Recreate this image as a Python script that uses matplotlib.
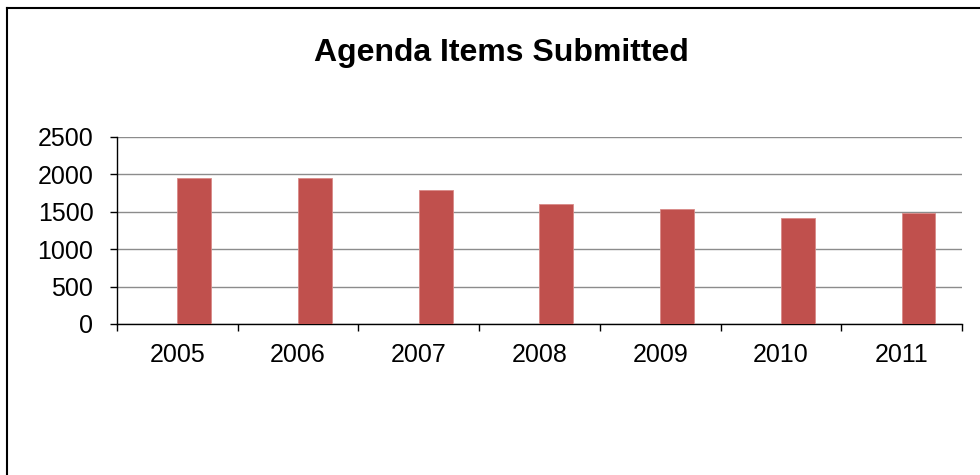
import matplotlib.pyplot as plt
import numpy as np
from matplotlib.lines import Line2D

# Agenda items submitted per year
years = ["2005", "2006", "2007", "2008", "2009", "2010", "2011"]
items = [1950, 1950, 1790, 1600, 1535, 1415, 1480]
y_ticks = [0, 500, 1000, 1500, 2000, 2500]

plt.rcParams["font.family"] = ["Liberation Sans", "DejaVu Sans"]

fig = plt.figure(figsize=(9.8, 4.75), dpi=100)
ax = fig.add_axes([0.1194, 0.3179, 0.8622, 0.3937])

# bars sit right of the category centre, as in a two-series column chart
bar_w = 0.28
x = np.arange(len(years))
ax.bar(x + bar_w / 2, items, width=bar_w, color="#C0504D",
       edgecolor="#D88A88", linewidth=0.6, zorder=3)

ax.set_xlim(-0.5, len(years) - 0.5)
ax.set_ylim(0, 2500)
ax.set_yticks(y_ticks)
ax.set_yticklabels([str(v) for v in y_ticks], fontsize=18)
ax.set_xticks(x)
ax.set_xticklabels(years, fontsize=18)
ax.set_xticks(np.arange(len(years) + 1) - 0.5, minor=True)

ax.tick_params(axis="x", which="major", length=0, pad=14)
ax.tick_params(axis="x", which="minor", length=5, width=1, color="black",
               direction="out")
ax.tick_params(axis="y", length=5, width=1, color="black", pad=12)

ax.grid(axis="y", color="#8C8C8C", linewidth=1, zorder=0)
for side in ["top", "right"]:
    ax.spines[side].set_visible(False)
for side in ["left", "bottom"]:
    ax.spines[side].set_color("black")
    ax.spines[side].set_linewidth(1)

fig.text(0.512, 0.889, "Agenda Items Submitted", ha="center", va="center",
         fontsize=23, fontweight="bold")

# chart frame, open on the right and bottom
fig.add_artist(Line2D([0.0075, 1.0], [0.983, 0.983], color="black",
                      linewidth=1.5, transform=fig.transFigure))
fig.add_artist(Line2D([0.0075, 0.0075], [0.0, 0.983], color="black",
                      linewidth=1.5, transform=fig.transFigure))

fig.savefig("out.png", dpi=100)
